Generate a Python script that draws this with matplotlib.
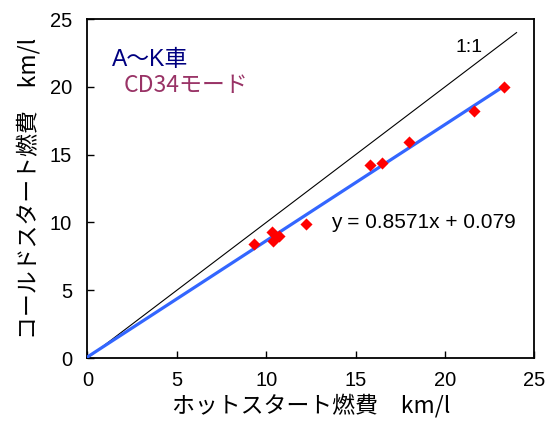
import numpy as np
import matplotlib
matplotlib.use("Agg")
import matplotlib.pyplot as plt

plt.rcParams['font.family'] = ['Liberation Sans', 'Noto Sans CJK JP', 'DejaVu Sans']

# Fuel economy of vehicles A-K (CD34 mode): hot start vs cold start, km/l
hot_start = [9.3, 10.3, 10.4, 10.7, 12.2, 15.8, 16.5, 18.0, 21.6, 23.3]
cold_start = [8.4, 9.3, 8.6, 9.0, 9.9, 14.2, 14.4, 15.9, 18.2, 20.0]

slope = 0.8571
intercept = 0.079

x_ticks = [0, 5, 10, 15, 20, 25]
y_ticks = [0, 5, 10, 15, 20, 25]

fig = plt.figure(figsize=(5.52, 4.30), dpi=100)
ax = fig.add_axes([0.1585, 0.1674, 0.8097, 0.7884])

# 1:1 reference line
ax.plot([0, 24.0], [0, 24.0], color='black', lw=0.8, zorder=2)
ax.text(20.6, 22.9, '1:1', fontsize=14, ha='left', va='center')

# Linear fit from the origin to the last data point
fit_x = np.array([0, max(hot_start)])
ax.plot(fit_x, slope * fit_x + intercept, color='#3366FF', lw=2.3, zorder=3)

ax.scatter(hot_start, cold_start, marker='D', s=38, color='#FF0000',
           linewidths=0, zorder=4)

ax.text(13.6, 10.0, f'y = {slope}x + {intercept}', fontsize=15,
        ha='left', va='center')

ax.text(1.35, 22.0, 'A～K車', fontsize=16.5, color='#000080',
        ha='left', va='center')
ax.text(2.0, 20.1, 'CD34モード', fontsize=16.5, color='#993366',
        ha='left', va='center', family=['Noto Sans CJK JP'])

ax.set_xlim(0, 25)
ax.set_ylim(0, 25)
ax.set_xticks(x_ticks)
ax.set_yticks(y_ticks)
ax.tick_params(direction='in', length=5, width=1, labelsize=14.5, pad=9)
ax.tick_params(axis='y', pad=11)
for sp in ax.spines.values():
    sp.set_linewidth(1.3)

ax.set_xlabel('ホットスタート燃費　km/l', fontsize=16.5,
              family=['Noto Sans CJK JP'], labelpad=3)
ax.set_ylabel('コールドスタート燃費　km/l', fontsize=16.5,
              family=['Noto Sans CJK JP'], labelpad=7)

fig.savefig('out.png', dpi=100)
